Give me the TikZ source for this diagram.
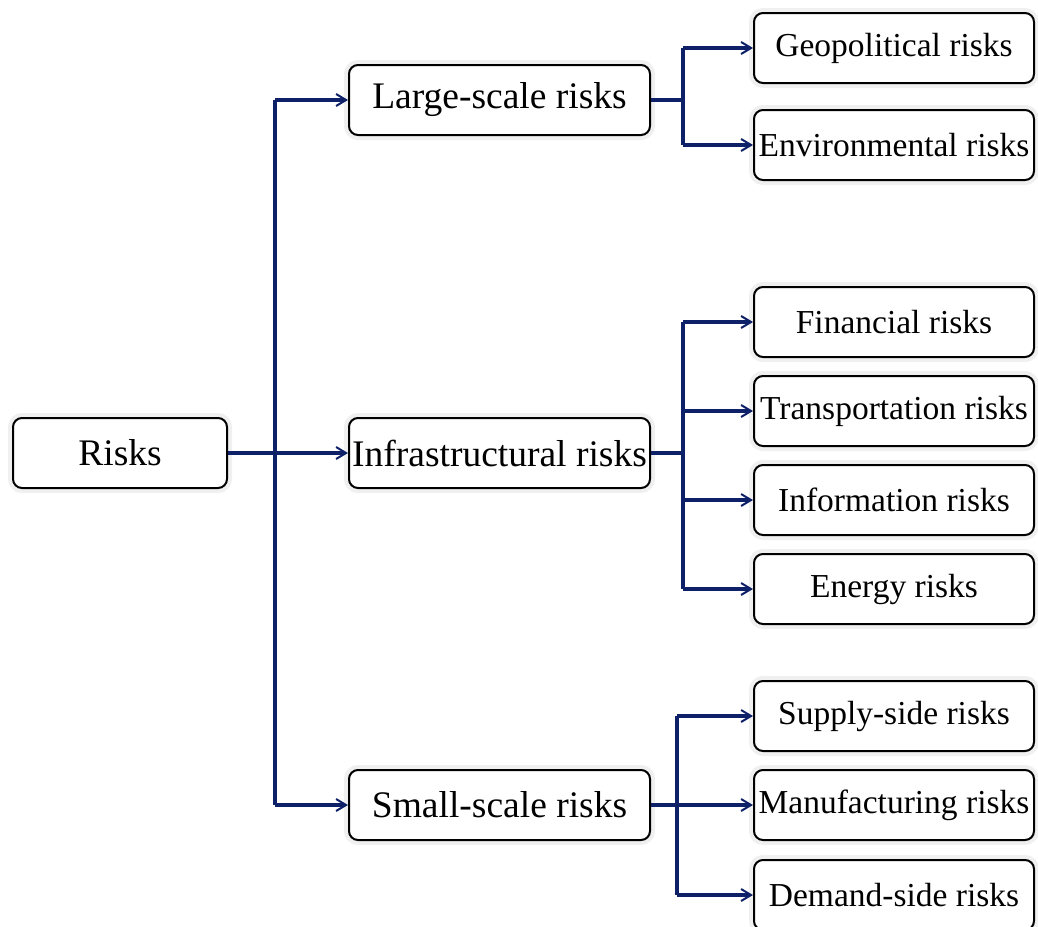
\documentclass[tikz,border=0pt]{standalone}
\usepackage{fontspec}
\setmainfont{Liberation Serif}
\usetikzlibrary{arrows.meta}
\definecolor{navy}{RGB}{14,32,104}
\tikzset{
  box/.style={draw=black, line width=2pt, rounded corners=9pt, fill=white,
    minimum height=70pt, inner sep=0pt, font=\fontsize{33.5}{40}\selectfont,
    preaction={draw=black!6, line width=10pt}},
  bigbox/.style={box, font=\fontsize{37.5}{44}\selectfont},
  conn/.style={draw=navy, line width=3.5pt},
  arr/.style={conn, -{Straight Barb[length=10pt,width=12pt,line width=2pt]}},
}
\begin{document}
\begin{tikzpicture}[x=1pt,y=-1pt]
\useasboundingbox (0,0) rectangle (1038,926);
\node[bigbox, minimum width=214pt] (risks) at (120,453) {Risks};
\node[bigbox, minimum width=301pt] (large) at (499.5,100) {Large-scale risks};
\node[bigbox, minimum width=301pt] (infra) at (499.5,453) {Infrastructural risks};
\node[bigbox, minimum width=301pt] (small) at (499.5,805) {Small-scale risks};
\node[box, minimum width=280pt] (geo) at (894,48) {Geopolitical risks};
\node[box, minimum width=280pt] (env) at (894,145) {Environmental risks};
\node[box, minimum width=280pt] (fin) at (894,322) {Financial risks};
\node[box, minimum width=280pt] (trans) at (894,411) {Transportation risks};
\node[box, minimum width=280pt] (info) at (894,500) {Information risks};
\node[box, minimum width=280pt] (energy) at (894,589) {Energy risks};
\node[box, minimum width=280pt] (supply) at (894,716) {Supply-side risks};
\node[box, minimum width=280pt] (manu) at (894,805) {Manufacturing risks};
\node[box, minimum width=280pt] (demand) at (894,895) {Demand-side risks};
% trunk
\coordinate (t1) at (275,100);
\coordinate (t3) at (275,805);
\draw[conn] (t1) -- (t3);
\draw[arr] (risks.east) -- (infra.west);
\draw[arr] (t1) -- (large.west);
\draw[arr] (t3) -- (small.west);
% large
\coordinate (l1) at (683,48);
\coordinate (l2) at (683,145);
\draw[conn] (large.east) -- (683,100);
\draw[conn] (l1) -- (l2);
\draw[arr] (l1) -- (geo.west);
\draw[arr] (l2) -- (env.west);
% infra
\coordinate (i1) at (683,322);
\coordinate (i4) at (683,589);
\draw[conn] (infra.east) -- (683,453);
\draw[conn] (i1) -- (i4);
\draw[arr] (i1) -- (fin.west);
\draw[arr] (683,411) -- (trans.west);
\draw[arr] (683,500) -- (info.west);
\draw[arr] (i4) -- (energy.west);
% small
\coordinate (s1) at (677,716);
\coordinate (s3) at (677,895);
\draw[conn] (s1) -- (s3);
\draw[arr] (small.east) -- (manu.west);
\draw[arr] (s1) -- (supply.west);
\draw[arr] (s3) -- (demand.west);
\end{tikzpicture}
\end{document}
